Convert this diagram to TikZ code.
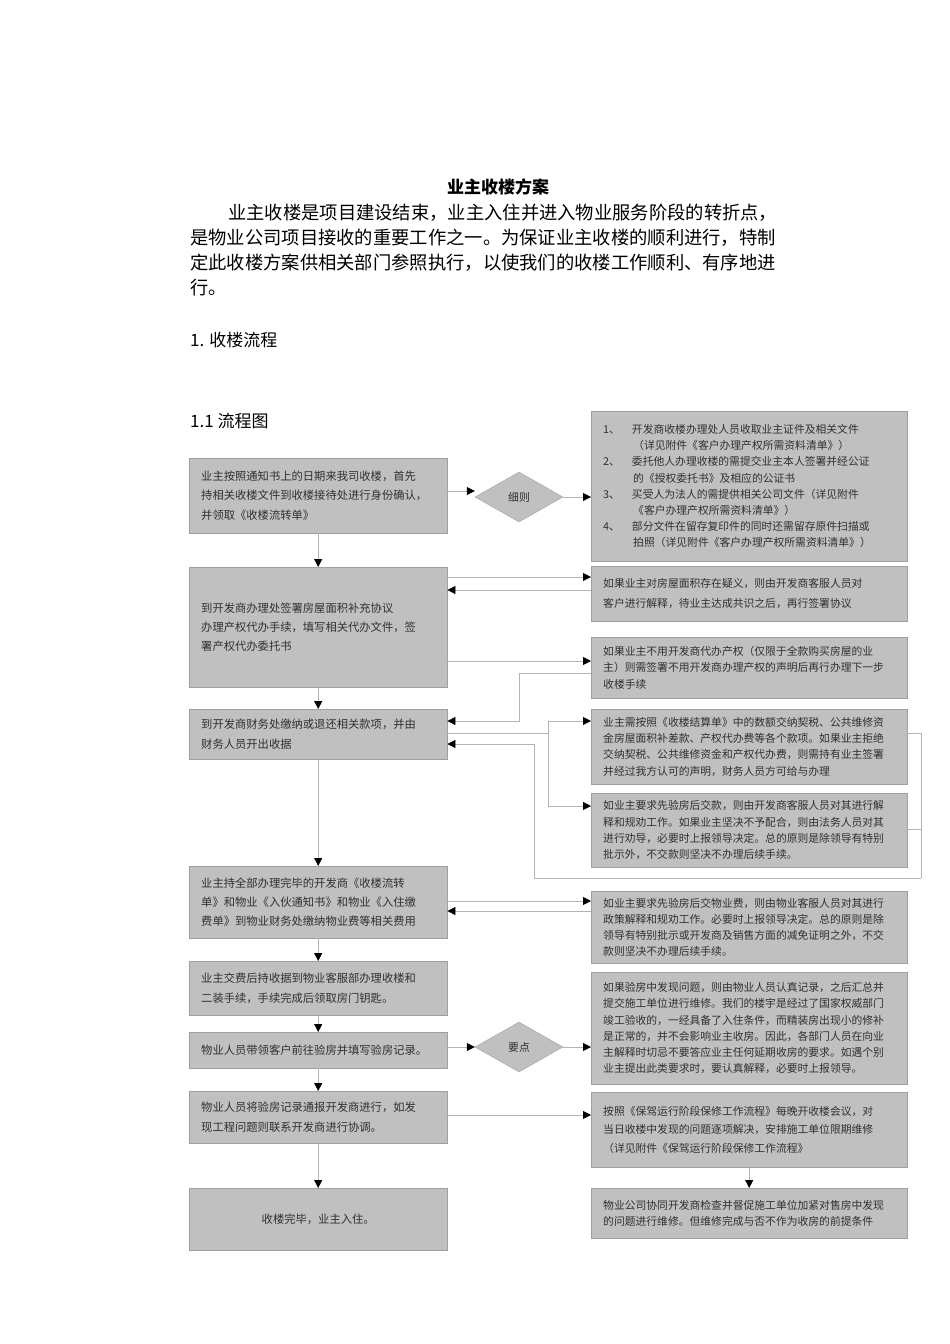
\documentclass[tikz,border=0pt]{standalone}
\usepackage{fontspec}
\setmainfont{Noto Sans CJK SC}
\usetikzlibrary{arrows.meta,shapes.geometric}
\definecolor{boxfill}{HTML}{C0C0C0}
\definecolor{boxline}{HTML}{A0A0A0}
\definecolor{conn}{HTML}{B4B4B4}
\definecolor{txt}{HTML}{303030}
\tikzset{
 lbox/.style={draw=boxline, fill=boxfill, anchor=north west, inner xsep=12pt, inner ysep=0pt, minimum width=258pt, text width=234pt, align=left, text=txt, font=\fontsize{11.3}{19.3}\selectfont},
 rbox/.style={draw=boxline, fill=boxfill, anchor=north west, inner xsep=12pt, inner ysep=0pt, minimum width=316pt, text width=292pt, align=left, text=txt, font=\fontsize{10.8}{16.2}\selectfont},
 dia/.style={diamond, draw=boxline, fill=boxfill, minimum width=88pt, minimum height=50pt, inner sep=0pt, text=txt, font=\fontsize{10.8}{13}\selectfont},
 conn/.style={draw=conn, line width=0.8pt},
 arr/.style={conn, -{Triangle[black,length=8pt,width=8pt]}},
 para/.style={anchor=base west, inner sep=0pt, font=\fontsize{18.3}{22}\selectfont},
}
\begin{document}
\begin{tikzpicture}[x=1pt,y=-1pt]
\useasboundingbox (0,0) rectangle (950,1344);
\node[anchor=base, inner sep=0pt, font=\fontsize{17}{20}\selectfont\bfseries] (title) at (498,193) {业主收楼方案};
\node[para] (p1) at (228,219) {业主收楼是项目建设结束，业主入住并进入物业服务阶段的转折点，};
\node[para] (p2) at (190,244) {是物业公司项目接收的重要工作之一。为保证业主收楼的顺利进行，特制};
\node[para] (p3) at (190,269) {定此收楼方案供相关部门参照执行，以使我们的收楼工作顺利、有序地进};
\node[para] (p4) at (190,294) {行。};
\node[para, font=\fontsize{17}{20}\selectfont] (h1) at (190,346) {1. 收楼流程};
\node[para, font=\fontsize{17}{20}\selectfont] (h2) at (190,427) {1.1 流程图};

% left column
\node[lbox, minimum height=75pt] (L1) at (189,458) {业主按照通知书上的日期来我司收楼，首先\\持相关收楼文件到收楼接待处进行身份确认，\\并领取《收楼流转单》};
\node[lbox, minimum height=120pt] (L2) at (189,567) {到开发商办理处签署房屋面积补充协议\\办理产权代办手续，填写相关代办文件，签\\署产权代办委托书\\[14pt]};
\node[lbox, minimum height=50pt] (L3) at (189,709) {到开发商财务处缴纳或退还相关款项，并由\\财务人员开出收据};
\node[lbox, minimum height=72pt] (L4) at (189,866) {业主持全部办理完毕的开发商《收楼流转\\单》和物业《入伙通知书》和物业《入住缴\\费单》到物业财务处缴纳物业费等相关费用};
\node[lbox, minimum height=54pt] (L5) at (189,961) {业主交费后持收据到物业客服部办理收楼和\\二装手续，手续完成后领取房门钥匙。\\[4pt]};
\node[lbox, minimum height=36pt] (L6) at (189,1032) {物业人员带领客户前往验房并填写验房记录。};
\node[lbox, minimum height=52pt] (L7) at (189,1091) {物业人员将验房记录通报开发商进行，如发\\现工程问题则联系开发商进行协调。\\[8pt]};
\node[lbox, minimum height=62pt, align=center] (L8) at (189,1188) {收楼完毕，业主入住。};

% diamonds
\node[dia] (D1) at (519,497) {细则};
\node[dia] (D2) at (519,1047) {要点};

% right column
\node[rbox, minimum height=150pt] (R1) at (591,411) {1、\hspace{12pt}开发商收楼办理处人员收取业主证件及相关文件\\\hspace{30pt}（详见附件《客户办理产权所需资料清单》）\\2、\hspace{12pt}委托他人办理收楼的需提交业主本人签署并经公证\\\hspace{30pt}的《授权委托书》及相应的公证书\\3、\hspace{12pt}买受人为法人的需提供相关公司文件（详见附件\\\hspace{30pt}《客户办理产权所需资料清单》）\\4、\hspace{12pt}部分文件在留存复印件的同时还需留存原件扫描或\\\hspace{30pt}拍照（详见附件《客户办理产权所需资料清单》）\\[10pt]};
\node[rbox, minimum height=55pt, font=\fontsize{10.8}{19.5}\selectfont] (R2) at (591,566) {如果业主对房屋面积存在疑义，则由开发商客服人员对\\客户进行解释，待业主达成共识之后，再行签署协议};
\node[rbox, minimum height=61pt] (R3) at (591,637) {如果业主不用开发商代办产权（仅限于全款购买房屋的业\\主）则需签署不用开发商办理产权的声明后再行办理下一步\\收楼手续};
\node[rbox, minimum height=75pt] (R4) at (591,709) {业主需按照《收楼结算单》中的数额交纳契税、公共维修资\\金房屋面积补差款、产权代办费等各个款项。如果业主拒绝\\交纳契税、公共维修资金和产权代办费，则需持有业主签署\\并经过我方认可的声明，财务人员方可给与办理};
\node[rbox, minimum height=74pt] (R5) at (591,793) {如业主要求先验房后交款，则由开发商客服人员对其进行解\\释和规劝工作。如果业主坚决不予配合，则由法务人员对其\\进行劝导，必要时上报领导决定。总的原则是除领导有特别\\批示外，不交款则坚决不办理后续手续。};
\node[rbox, minimum height=72pt] (R6) at (591,891) {如业主要求先验房后交物业费，则由物业客服人员对其进行\\政策解释和规劝工作。必要时上报领导决定。总的原则是除\\领导有特别批示或开发商及销售方面的减免证明之外，不交\\款则坚决不办理后续手续。};
\node[rbox, minimum height=112pt] (R7) at (591,972) {如果验房中发现问题，则由物业人员认真记录，之后汇总并\\提交施工单位进行维修。我们的楼宇是经过了国家权威部门\\竣工验收的，一经具备了入住条件，而精装房出现小的修补\\是正常的，并不会影响业主收房。因此，各部门人员在向业\\主解释时切忌不要答应业主任何延期收房的要求。如遇个别\\业主提出此类要求时，要认真解释，必要时上报领导。};
\node[rbox, minimum height=75pt, font=\fontsize{10.8}{18.5}\selectfont] (R8) at (591,1092) {按照《保驾运行阶段保修工作流程》每晚开收楼会议，对\\当日收楼中发现的问题逐项解决，安排施工单位限期维修\\（详见附件《保驾运行阶段保修工作流程》\\[6pt]};
\node[rbox, minimum height=50pt] (R9) at (591,1188) {物业公司协同开发商检查并督促施工单位加紧对售房中发现\\的问题进行维修。但维修完成与否不作为收房的前提条件};

% vertical main flow
\draw[arr] (L1.south) -- (L2.north);
\draw[arr] (L2.south) -- (L3.north);
\draw[arr] (L3.south) -- (L4.north);
\draw[arr] (L4.south) -- (L5.north);
\draw[arr] (L5.south) -- (L6.north);
\draw[arr] (L6.south) -- (L7.north);
\draw[arr] (L7.south) -- (L8.north);
\draw[arr] (R8.south) -- (R9.north);

% diamonds
\draw[arr] (L1.east |- 0,491) -- (D1.west |- 0,491);
\draw[arr] (D1.east) -- (R1.west |- D1.east);
\draw[arr] (L6.east |- 0,1047) -- (D2.west);
\draw[arr] (D2.east) -- (R7.west |- D2.east);

% L2 <-> R2, R3
\draw[arr] (L2.east |- 0,577) -- (R2.west |- 0,577);
\draw[arr] (R2.west |- 0,590) -- (L2.east |- 0,590);
\draw[arr] (L2.east |- 0,661) -- (R3.west |- 0,661);
\draw[arr] (R3.west |- 0,673) -- (519,673) -- (519,721) -- (L3.east |- 0,721);

% L3 -> R4, R5 and back
\draw[conn] (L3.east |- 0,733) -- (548,733);
\draw[arr] (548,721) -- (R4.west |- 0,721);
\draw[arr] (548,733) -- (548,806) -- (R5.west |- 0,806);
\draw[conn] (548,721) -- (548,733);
\draw[conn] (R4.east |- 0,733) -- (921,733) -- (921,878);
\draw[conn] (R5.east |- 0,829) -- (921,829);
\draw[arr] (921,878) -- (534,878) -- (534,744) -- (L3.east |- 0,744);

% L4 <-> R6
\draw[arr] (L4.east |- 0,901) -- (R6.west |- 0,901);
\draw[arr] (R6.west |- 0,911) -- (L4.east |- 0,911);

% L7 -> R8
\draw[arr] (L7.east |- 0,1115) -- (R8.west |- 0,1115);
\end{tikzpicture}
\end{document}
